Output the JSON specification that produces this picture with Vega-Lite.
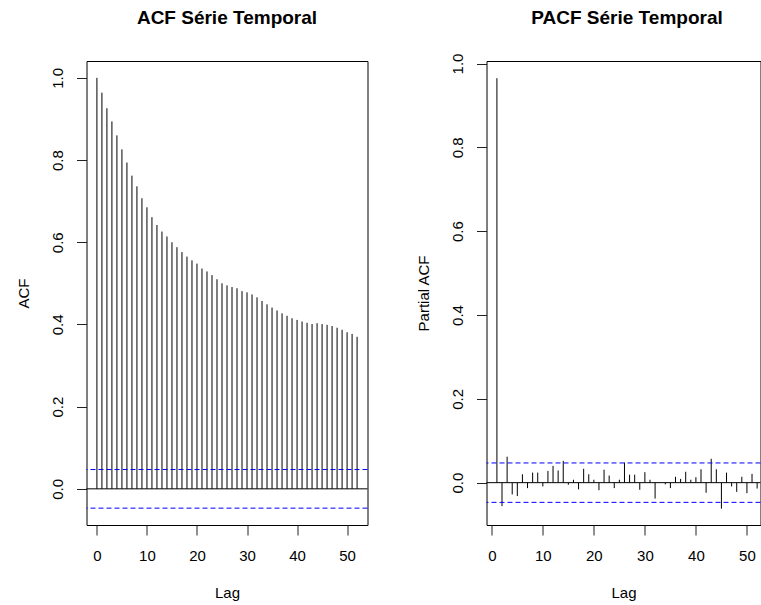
{
  "$schema": "https://vega.github.io/schema/vega-lite/v6.json",
  "padding": {"left": 15.5, "top": 8, "right": 0, "bottom": 0},
  "spacing": 47,
  "config": {
    "font": "Liberation Sans",
    "view": {"stroke": "black", "strokeWidth": 1},
    "axis": {
      "grid": false,
      "domain": false,
      "tickSize": 10,
      "tickColor": "#222",
      "labelFontSize": 15,
      "labelColor": "black",
      "titleFontSize": 15,
      "titleFontWeight": "normal",
      "titleColor": "black",
      "labelFont": "Liberation Sans",
      "titleFont": "Liberation Sans"
    },
    "axisX": {"labelBaseline": "alphabetic", "labelPadding": 25, "titleBaseline": "alphabetic", "titlePadding": 34},
    "axisY": {"labelAngle": -90, "labelAlign": "center", "labelBaseline": "alphabetic", "labelPadding": 14, "titleAngle": -90, "titleBaseline": "alphabetic", "titlePadding": 22},
    "title": {"fontSize": 19, "fontWeight": "bold", "color": "black", "font": "Liberation Sans", "anchor": "middle", "baseline": "alphabetic", "frame": "group"}
  },
  "datasets": {
    "acf": [
      {"lag": 0, "acf": 1.0}, {"lag": 1, "acf": 0.964}, {"lag": 2, "acf": 0.926}, {"lag": 3, "acf": 0.894},
      {"lag": 4, "acf": 0.860}, {"lag": 5, "acf": 0.826}, {"lag": 6, "acf": 0.794}, {"lag": 7, "acf": 0.762},
      {"lag": 8, "acf": 0.736}, {"lag": 9, "acf": 0.707}, {"lag": 10, "acf": 0.685}, {"lag": 11, "acf": 0.661},
      {"lag": 12, "acf": 0.642}, {"lag": 13, "acf": 0.626}, {"lag": 14, "acf": 0.614}, {"lag": 15, "acf": 0.600},
      {"lag": 16, "acf": 0.588}, {"lag": 17, "acf": 0.576}, {"lag": 18, "acf": 0.565}, {"lag": 19, "acf": 0.556},
      {"lag": 20, "acf": 0.548}, {"lag": 21, "acf": 0.536}, {"lag": 22, "acf": 0.529}, {"lag": 23, "acf": 0.520},
      {"lag": 24, "acf": 0.510}, {"lag": 25, "acf": 0.500}, {"lag": 26, "acf": 0.495}, {"lag": 27, "acf": 0.491},
      {"lag": 28, "acf": 0.488}, {"lag": 29, "acf": 0.481}, {"lag": 30, "acf": 0.478}, {"lag": 31, "acf": 0.473},
      {"lag": 32, "acf": 0.466}, {"lag": 33, "acf": 0.457}, {"lag": 34, "acf": 0.449}, {"lag": 35, "acf": 0.441},
      {"lag": 36, "acf": 0.434}, {"lag": 37, "acf": 0.427}, {"lag": 38, "acf": 0.421}, {"lag": 39, "acf": 0.415},
      {"lag": 40, "acf": 0.411}, {"lag": 41, "acf": 0.407}, {"lag": 42, "acf": 0.404}, {"lag": 43, "acf": 0.401},
      {"lag": 44, "acf": 0.403}, {"lag": 45, "acf": 0.401}, {"lag": 46, "acf": 0.399}, {"lag": 47, "acf": 0.396},
      {"lag": 48, "acf": 0.392}, {"lag": 49, "acf": 0.387}, {"lag": 50, "acf": 0.381}, {"lag": 51, "acf": 0.377},
      {"lag": 52, "acf": 0.370}
    ],
    "pacf": [
      {"lag": 1, "pacf": 0.965}, {"lag": 2, "pacf": -0.056}, {"lag": 3, "pacf": 0.062}, {"lag": 4, "pacf": -0.028},
      {"lag": 5, "pacf": -0.032}, {"lag": 6, "pacf": 0.020}, {"lag": 7, "pacf": -0.013}, {"lag": 8, "pacf": 0.024},
      {"lag": 9, "pacf": 0.024}, {"lag": 10, "pacf": -0.009}, {"lag": 11, "pacf": 0.028}, {"lag": 12, "pacf": 0.040},
      {"lag": 13, "pacf": 0.029}, {"lag": 14, "pacf": 0.052}, {"lag": 15, "pacf": -0.005}, {"lag": 16, "pacf": 0.007},
      {"lag": 17, "pacf": -0.016}, {"lag": 18, "pacf": 0.033}, {"lag": 19, "pacf": 0.020}, {"lag": 20, "pacf": 0.007},
      {"lag": 21, "pacf": -0.018}, {"lag": 22, "pacf": 0.031}, {"lag": 23, "pacf": 0.017}, {"lag": 24, "pacf": -0.013},
      {"lag": 25, "pacf": 0.007}, {"lag": 26, "pacf": 0.048}, {"lag": 27, "pacf": 0.019}, {"lag": 28, "pacf": 0.019},
      {"lag": 29, "pacf": -0.017}, {"lag": 30, "pacf": 0.025}, {"lag": 31, "pacf": 0.007}, {"lag": 32, "pacf": -0.038},
      {"lag": 33, "pacf": 0.001}, {"lag": 34, "pacf": -0.004}, {"lag": 35, "pacf": -0.013}, {"lag": 36, "pacf": 0.014},
      {"lag": 37, "pacf": 0.009}, {"lag": 38, "pacf": 0.026}, {"lag": 39, "pacf": 0.007}, {"lag": 40, "pacf": 0.013},
      {"lag": 41, "pacf": 0.032}, {"lag": 42, "pacf": -0.024}, {"lag": 43, "pacf": 0.057}, {"lag": 44, "pacf": 0.032},
      {"lag": 45, "pacf": -0.062}, {"lag": 46, "pacf": 0.024}, {"lag": 47, "pacf": -0.009}, {"lag": 48, "pacf": -0.022},
      {"lag": 49, "pacf": 0.014}, {"lag": 50, "pacf": -0.025}, {"lag": 51, "pacf": 0.021}, {"lag": 52, "pacf": -0.014}
    ],
    "ci": [{"ci": 0.047}, {"ci": -0.047}]
  },
  "hconcat": [
    {
      "width": 281,
      "height": 464,
      "title": {"text": "ACF Série Temporal", "offset": 33},
      "layer": [
        {
          "data": {"name": "acf"},
          "mark": {"type": "rule", "color": "black", "strokeWidth": 1},
          "encoding": {
            "x": {"field": "lag", "type": "quantitative", "scale": {"domain": [-2.08, 54.08], "nice": false, "zero": false},
                  "axis": {"values": [0, 10, 20, 30, 40, 50], "title": "Lag"}},
            "y": {"field": "acf", "type": "quantitative", "scale": {"domain": [-0.088, 1.041], "nice": false},
                  "axis": {"values": [0, 0.2, 0.4, 0.6, 0.8, 1.0], "format": ".1f", "title": "ACF"}},
            "y2": {"datum": 0}
          }
        },
        {
          "data": {"values": [{"z": 0}]},
          "mark": {"type": "rule", "color": "black", "strokeWidth": 1},
          "encoding": {"y": {"field": "z", "type": "quantitative"}}
        },
        {
          "data": {"name": "ci"},
          "mark": {"type": "rule", "color": "blue", "strokeWidth": 1, "strokeDash": [5, 3]},
          "encoding": {"y": {"field": "ci", "type": "quantitative"}}
        }
      ]
    },
    {
      "width": 274,
      "height": 464,
      "title": {"text": "PACF Série Temporal", "dx": 3.5, "offset": 25},
      "layer": [
        {
          "data": {"name": "pacf"},
          "mark": {"type": "rule", "color": "black", "strokeWidth": 1},
          "encoding": {
            "x": {"field": "lag", "type": "quantitative", "scale": {"domain": [-1.04, 52.66], "nice": false, "zero": false},
                  "axis": {"values": [0, 10, 20, 30, 40, 50], "title": "Lag"}},
            "y": {"field": "pacf", "type": "quantitative", "scale": {"domain": [-0.101, 1.006], "nice": false},
                  "axis": {"values": [0, 0.2, 0.4, 0.6, 0.8, 1.0], "format": ".1f", "title": "Partial ACF"}},
            "y2": {"datum": 0}
          }
        },
        {
          "data": {"values": [{"z": 0}]},
          "mark": {"type": "rule", "color": "black", "strokeWidth": 1},
          "encoding": {"y": {"field": "z", "type": "quantitative"}}
        },
        {
          "data": {"name": "ci"},
          "mark": {"type": "rule", "color": "blue", "strokeWidth": 1, "strokeDash": [5, 3]},
          "encoding": {"y": {"field": "ci", "type": "quantitative"}}
        }
      ]
    }
  ]
}
